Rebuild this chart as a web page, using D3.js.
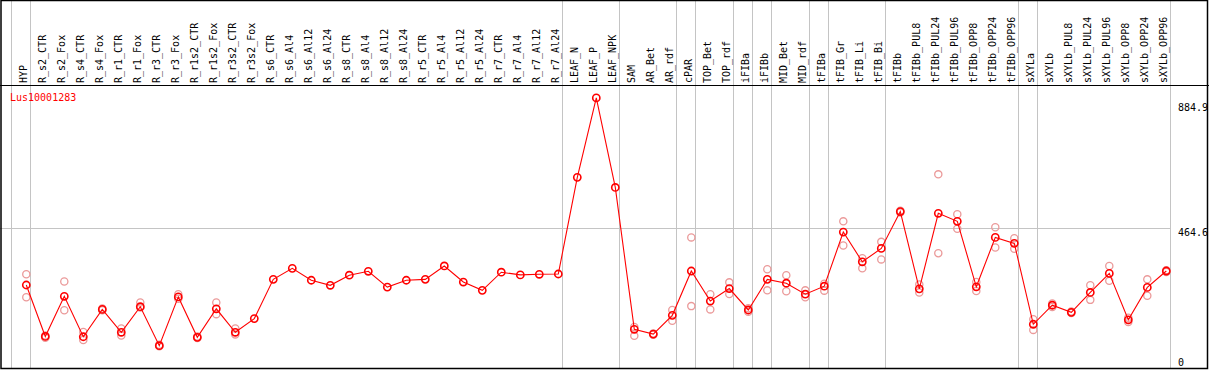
<!DOCTYPE html>
<html lang="en">
    <head>
        <meta charset="utf-8">
        <style>
            body { margin: 0; padding: 0; background: #fff; }
            text { font-family: "DejaVu Sans Mono", monospace; font-size: 10px; }
        </style>
    </head>
    <body>
        <script src="https://d3js.org/d3.v7.min.js" charset="utf-8"></script>
        <script type="text/javascript" charset="utf-8">

            var geneName = "Lus10001283";

            var categories = ["HYP", "R_s2_CTR", "R_s2_Fox", "R_s4_CTR", "R_s4_Fox", "R_r1_CTR", "R_r1_Fox",
                "R_r3_CTR", "R_r3_Fox", "R_r1s2_CTR", "R_r1s2_Fox", "R_r3s2_CTR", "R_r3s2_Fox",
                "R_s6_CTR", "R_s6_Al4", "R_s6_Al12", "R_s6_Al24", "R_s8_CTR", "R_s8_Al4", "R_s8_Al12", "R_s8_Al24",
                "R_r5_CTR", "R_r5_Al4", "R_r5_Al12", "R_r5_Al24", "R_r7_CTR", "R_r7_Al4", "R_r7_Al12", "R_r7_Al24",
                "LEAF_N", "LEAF_P", "LEAF_NPK", "SAM", "AR_Bet", "AR_rdf", "cPAR", "TOP_Bet", "TOP_rdf",
                "iFIBa", "iFIBb", "MID_Bet", "MID_rdf", "tFIBa", "tFIB_Gr", "tFIB_Li", "tFIB_Bi", "tFIBb",
                "tFIBb_PUL8", "tFIBb_PUL24", "tFIBb_PUL96", "tFIBb_OPP8", "tFIBb_OPP24", "tFIBb_OPP96",
                "sXYLa", "sXYLb", "sXYLb_PUL8", "sXYLb_PUL24", "sXYLb_PUL96", "sXYLb_OPP8", "sXYLb_OPP24", "sXYLb_OPP96"];

            // mean expression
            var meanValues = [274, 101, 236, 100, 192, 115, 201, 70, 234, 98, 194, 115, 161,
                293, 330, 290, 273, 307, 320, 267, 290, 293, 338, 284, 256, 317, 308, 310, 311,
                636, 903, 602, 125, 109, 172, 321, 220, 262, 190, 293, 280, 243, 270, 452, 352, 397, 521,
                261, 515, 488, 268, 434, 414, 142, 206, 182, 249, 313, 157, 266, 321];

            // replicates (null = not shown)
            var rep1 = [310, 104, 286, 116, 195, 128, 215, 73, 243, 101, 215, 128, null,
                null, null, null, null, null, null, null, null, null, null, null, null, null, null, null, null,
                null, null, null, 133, 111, 190, 434, 243, 283, 196, 327, 307, 256, 278, 488, 364, 419, 524,
                276, 646, 512, 284, 468, 431, 159, 212, 185, 273, 338, 164, 293, 324];
            var rep2 = [233, 97, 189, 89, 189, 104, 198, 68, 228, 96, 176, 108, null,
                null, null, null, null, null, null, null, null, null, null, null, null, null, null, null, null,
                null, null, null, 103, 107, 154, 203, 192, 244, 184, 256, 253, 233, 255, 407, 330, 360, 518,
                249, 381, 463, 254, 400, 396, 123, 200, 180, 224, 288, 150, 238, 318];

            // first category of each group (vertical separators)
            var groupStarts = ["HYP", "R_s2_CTR", "LEAF_N", "SAM", "cPAR", "TOP_Bet", "iFIBa", "iFIBb",
                "MID_Bet", "tFIBa", "tFIB_Gr", "tFIBb", "sXYLa", "sXYLb"];

            var yTicks = [0, 464.6, 884.9];

            var W = 1209, H = 370,
                headerY = 85,
                plotLeft = 11, plotRight = 1170,
                bottomY = 368.5,
                pointOffset = 15.3;

            var svg = d3.select("body").append("svg")
                .attr("width", W)
                .attr("height", H);

            var x = d3.scaleBand()
                .domain(categories)
                .range([plotLeft, plotRight])
                .padding(0);

            var y = d3.scaleLinear()
                .domain([0, 884.9])
                .range([366.5, 103.3]);

            function px(c) { return x(c) + pointOffset; }

            var data = categories.map(function (c, i) {
                return { cat: c, mean: meanValues[i], r1: rep1[i], r2: rep2[i] };
            });

            // vertical grid lines
            var vLines = groupStarts.map(function (c) { return x(c); });
            vLines.push(plotRight);
            svg.selectAll(".vgrid")
                .data(vLines)
                .enter()
                .append("line")
                .attr("class", "vgrid")
                .attr("x1", function (d) { return d + 0.5; })
                .attr("x2", function (d) { return d + 0.5; })
                .attr("y1", 0)
                .attr("y2", bottomY)
                .style("stroke", "#c4c4c4")
                .style("stroke-width", 1);

            // horizontal grid line at the middle tick
            svg.append("line")
                .attr("x1", 0)
                .attr("x2", plotRight)
                .attr("y1", Math.round(y(464.6)) + 0.5)
                .attr("y2", Math.round(y(464.6)) + 0.5)
                .style("stroke", "#c4c4c4")
                .style("stroke-width", 1);

            // frame
            svg.append("rect")
                .attr("x", 1)
                .attr("y", 0.5)
                .attr("width", 1206.5)
                .attr("height", bottomY - 0.5)
                .style("fill", "none")
                .style("stroke", "#000")
                .style("stroke-width", 1.5);
            svg.append("line")
                .attr("x1", 0)
                .attr("x2", W)
                .attr("y1", headerY + 0.5)
                .attr("y2", headerY + 0.5)
                .style("stroke", "#000")
                .style("stroke-width", 1.2);

            // header labels
            svg.selectAll(".catlabel")
                .data(categories)
                .enter()
                .append("text")
                .attr("class", "catlabel")
                .attr("transform", function (d) {
                    return "translate(" + (px(d) + 0.5) + "," + 83 + ") rotate(-90)";
                })
                .attr("text-anchor", "start")
                .style("fill", "#000")
                .text(function (d) { return d; });

            // y labels
            svg.selectAll(".ylabel")
                .data(yTicks)
                .enter()
                .append("text")
                .attr("class", "ylabel")
                .attr("x", 1178)
                .attr("y", function (d) { return Math.min(y(d) + 7.5, 365.5); })
                .style("fill", "#000")
                .text(function (d) { return d; });

            // gene name
            svg.append("text")
                .attr("x", 10)
                .attr("y", 101)
                .style("fill", "#ff0000")
                .text(geneName);

            // replicate points
            var reps = [];
            data.forEach(function (d) {
                if (d.r1 !== null) reps.push({ cat: d.cat, v: d.r1 });
                if (d.r2 !== null) reps.push({ cat: d.cat, v: d.r2 });
            });
            svg.selectAll(".rep")
                .data(reps)
                .enter()
                .append("circle")
                .attr("class", "rep")
                .attr("cx", function (d) { return px(d.cat); })
                .attr("cy", function (d) { return y(d.v); })
                .attr("r", 3.6)
                .style("fill", "none")
                .style("stroke", "#eb9a9a")
                .style("stroke-width", 1.3);

            // mean line
            var line = d3.line()
                .x(function (d) { return px(d.cat); })
                .y(function (d) { return y(d.mean); });
            svg.append("path")
                .datum(data)
                .attr("d", line)
                .style("fill", "none")
                .style("stroke", "#ff0000")
                .style("stroke-width", 1.1);

            svg.selectAll(".pt")
                .data(data)
                .enter()
                .append("circle")
                .attr("class", "pt")
                .attr("cx", function (d) { return px(d.cat); })
                .attr("cy", function (d) { return y(d.mean); })
                .attr("r", 3.6)
                .style("fill", "none")
                .style("stroke", "#ff0000")
                .style("stroke-width", 1.6);

        </script>
    </body>
</html>
